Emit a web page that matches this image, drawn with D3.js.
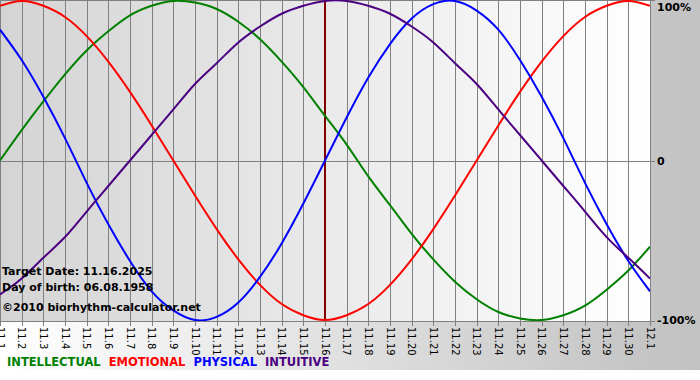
<!DOCTYPE html>
<html>
<head>
<meta charset="utf-8">
<script src="https://cdn.jsdelivr.net/npm/d3@7"></script>
<style>
  body { margin: 0; background: #fff; }
  svg { display: block; }
  text { font-family: "DejaVu Sans", Verdana, sans-serif; }
</style>
</head>
<body>
<svg id="canvas" width="700" height="380"></svg>
<script>
// day labels 11.1 .. 12.1
var days = ["11.1","11.2","11.3","11.4","11.5","11.6","11.7","11.8","11.9","11.10",
  "11.11","11.12","11.13","11.14","11.15","11.16","11.17","11.18","11.19","11.20",
  "11.21","11.22","11.23","11.24","11.25","11.26","11.27","11.28","11.29","11.30","12.1"];

var intellectual = [0, 0.19, 0.37, 0.54, 0.69, 0.81, 0.91, 0.97, 1.0, 0.99, 0.95, 0.87, 0.76, 0.62,
  0.46, 0.28, 0.10, -0.10, -0.28, -0.46, -0.62, -0.76, -0.87, -0.95, -0.99, -1.0, -0.97, -0.91,
  -0.81, -0.69, -0.54];
var emotional = [0.97, 1.0, 0.97, 0.90, 0.78, 0.62, 0.43, 0.22, 0, -0.22, -0.43, -0.62, -0.78, -0.90,
  -0.97, -1.0, -0.97, -0.90, -0.78, -0.62, -0.43, -0.22, 0, 0.22, 0.43, 0.62, 0.78, 0.90, 0.97, 1.0, 0.97];
var physical = [0.82, 0.63, 0.40, 0.14, -0.14, -0.40, -0.63, -0.82, -0.94, -1.0, -0.98, -0.89, -0.73,
  -0.52, -0.27, 0, 0.27, 0.52, 0.73, 0.89, 0.98, 1.0, 0.94, 0.82, 0.63, 0.40, 0.14, -0.14, -0.40,
  -0.63, -0.82];
var intuitive = [-0.84, -0.74, -0.61, -0.48, -0.32, -0.16, 0, 0.16, 0.32, 0.48, 0.61, 0.74, 0.84, 0.92,
  0.97, 1.0, 1.0, 0.97, 0.92, 0.84, 0.74, 0.61, 0.48, 0.32, 0.16, 0, -0.16, -0.32, -0.48, -0.61, -0.74];

var series = [
  {name: "INTELLECTUAL", color: "#008000", values: intellectual},
  {name: "EMOTIONAL", color: "#ff0000", values: emotional},
  {name: "PHYSICAL", color: "#0000ff", values: physical},
  {name: "INTUITIVE", color: "#4b0082", values: intuitive}
];

var yLabels = [{v: 1, t: "100%"}, {v: 0, t: "0"}, {v: -1, t: "-100%"}];
var targetIndex = 15;
var infoLines = ["Target Date: 11.16.2025", "Day of birth: 06.08.1958", "\u00a92010 biorhythm-calculator.net"];

var svg = d3.select("#canvas");
var plotW = 650, plotH = 321;

var x = d3.scaleLinear().domain([0, days.length - 1]).range([0, plotW]);
var y = d3.scaleLinear().domain([-1, 1]).range([320, 1]);

var defs = svg.append("defs");
var outerGrad = defs.append("linearGradient").attr("id", "outerGrad");
outerGrad.append("stop").attr("offset", "0%").attr("stop-color", "#ffffff");
outerGrad.append("stop").attr("offset", "90%").attr("stop-color", "#c6c6c6");
outerGrad.append("stop").attr("offset", "100%").attr("stop-color", "#c2c2c2");
var plotGrad = defs.append("linearGradient").attr("id", "plotGrad");
plotGrad.append("stop").attr("offset", "0%").attr("stop-color", "#d4d4d4");
plotGrad.append("stop").attr("offset", "100%").attr("stop-color", "#ffffff");
defs.append("clipPath").attr("id", "clip")
  .append("rect").attr("width", plotW).attr("height", plotH);

svg.append("rect").attr("width", 700).attr("height", 370).attr("fill", "url(#outerGrad)");
svg.append("rect").attr("width", plotW).attr("height", plotH).attr("fill", "url(#plotGrad)");

// grid
var grid = svg.append("g").attr("stroke", "#808080").attr("stroke-width", 1).attr("shape-rendering", "crispEdges");
grid.selectAll(".v").data(days).enter().append("line")
  .attr("x1", function(d, i) { return Math.round(x(i)) + 0.5; })
  .attr("x2", function(d, i) { return Math.round(x(i)) + 0.5; })
  .attr("y1", 0).attr("y2", plotH + 5);
grid.selectAll(".h").data([0.5, Math.round(y(0)) + 0.5, plotH + 0.5]).enter().append("line")
  .attr("x1", 0).attr("x2", plotW + 5)
  .attr("y1", function(d) { return d; }).attr("y2", function(d) { return d; });

// target date marker
svg.append("line")
  .attr("x1", x(targetIndex)).attr("x2", x(targetIndex))
  .attr("y1", 0).attr("y2", plotH)
  .attr("stroke", "#800000").attr("stroke-width", 2);

// curves
var line = d3.line()
  .x(function(d, i) { return x(i); })
  .y(function(d) { return y(d); })
  .curve(d3.curveNatural);

svg.append("g").attr("clip-path", "url(#clip)")
  .selectAll("path").data(series).enter().append("path")
  .attr("d", function(d) { return line(d.values); })
  .attr("fill", "none")
  .attr("stroke", function(d) { return d.color; })
  .attr("stroke-width", 2);

// day labels
svg.append("g").selectAll("text").data(days).enter().append("text")
  .attr("transform", function(d, i) { return "translate(" + x(i) + ",327) rotate(90)"; })
  .attr("dy", "0.35em")
  .attr("font-size", "10px")
  .attr("fill", "#000")
  .text(function(d) { return d; });

// percent labels
svg.append("g").selectAll("text").data(yLabels).enter().append("text")
  .attr("x", 657)
  .attr("y", function(d) { return Math.max(11, y(d.v) + 4); })
  .attr("font-size", "11px").attr("font-weight", "bold")
  .attr("fill", "#000")
  .text(function(d) { return d.t; });

// info text
svg.append("g").selectAll("text").data(infoLines).enter().append("text")
  .attr("x", 2)
  .attr("y", function(d, i) { return [275, 291, 311][i]; })
  .attr("font-size", "11px").attr("font-weight", "bold")
  .attr("fill", "#000")
  .text(function(d) { return d; });

// legend
var lx = 7;
svg.append("g").selectAll("text").data(series).enter().append("text")
  .attr("y", 366)
  .attr("font-size", "11.5px").attr("font-weight", "bold")
  .attr("fill", function(d) { return d.color; })
  .text(function(d) { return d.name; })
  .each(function() {
    d3.select(this).attr("x", lx);
    lx += this.getComputedTextLength() + 8;
  });
</script>
</body>
</html>
